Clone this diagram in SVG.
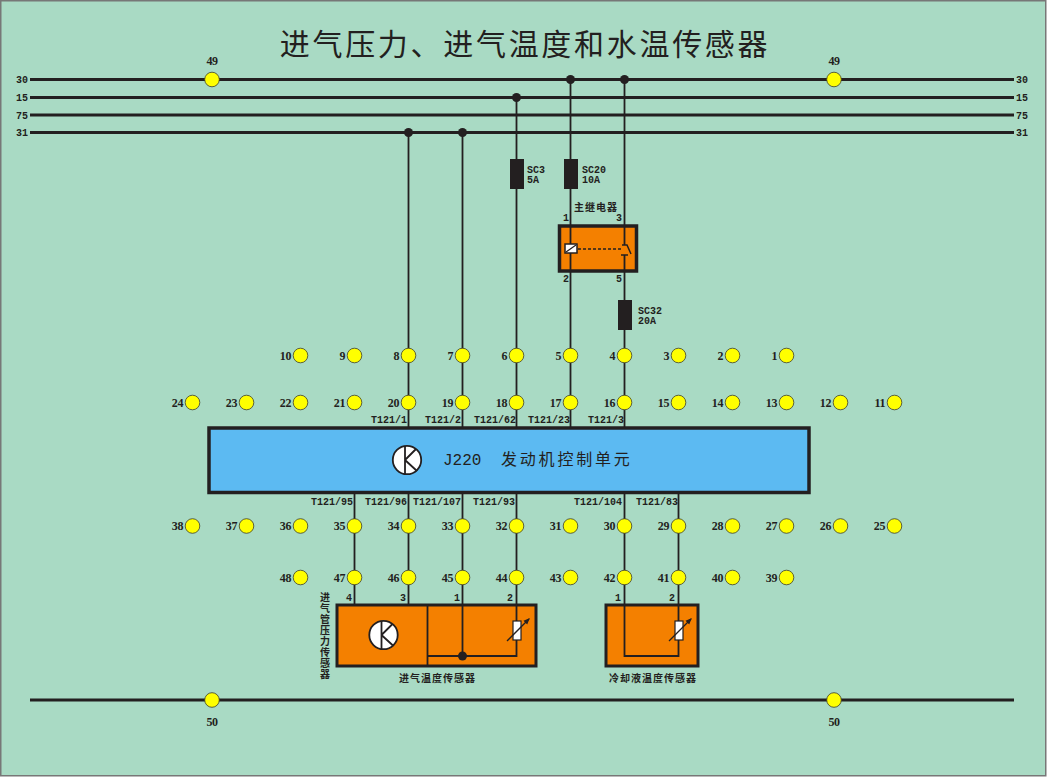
<svg xmlns="http://www.w3.org/2000/svg" width="1047" height="777" viewBox="0 0 1047 777">
<style>
.bus{stroke:#231f20;stroke-width:3;fill:none}
.w{stroke:#231f20;stroke-width:1.8;fill:none}
.p{fill:#ffff00;stroke:#3c3c2c;stroke-width:.8;r:7.3px}
.d{fill:#231f20}
.box{fill:#f48000;stroke:#231f20;stroke-width:3}
.fuse{fill:#231f20}
.res{fill:#fff;stroke:#231f20;stroke-width:1.2}
text{fill:#231f20;font-family:"Liberation Serif","Noto Sans CJK SC",serif}
.n{font-size:12px;letter-spacing:-.4px;text-anchor:end;font-weight:bold;transform:translateX(-1px)}
.c{font-size:12px;text-anchor:middle;letter-spacing:-.4px;font-weight:bold}
.m{font-family:"Liberation Mono","Noto Sans CJK SC",monospace;font-size:10px;font-weight:bold}
.t{text-anchor:end}
.b{text-anchor:middle}
.z{font-family:"Noto Sans CJK SC",sans-serif;font-size:10px;font-weight:bold;letter-spacing:1px}
</style>
<defs>
<g id="k"><circle r="14.2" fill="#fff" stroke="#231f20" stroke-width="1.8"/><path d="M-2-14V14M-2 0L9-11M-2 0L10 11" stroke="#231f20" stroke-width="1.8" fill="none"/></g>
<marker id="ar" markerWidth="5" markerHeight="5" refX="4" refY="2.500" orient="auto"><path d="M0 .5L5 2.500L0 4.500Z" fill="#231f20"/></marker>
</defs>
<rect id="background" x=".75" y=".75" width="1045" height="775" fill="#a9dac4" stroke="#777" stroke-width="1.5"/>
<text id="title" x="525" y="55" font-size="30" text-anchor="middle" letter-spacing="2.700" style="font-family:'Noto Sans CJK SC',sans-serif">进气压力、进气温度和水温传感器</text>
<g id="connectors">
<path class="bus" d="M30 79.500H1014M30 97.500H1014M30 115H1014M30 132.500H1014M30 700H1014"/>
<path class="w" d="M408.500 132V427M462.500 132V427M516.500 97V427M570.500 79V427M624.500 79V245M624.500 255V427"/>
<path class="w" d="M354.500 493V604M408.500 493V604M462.500 493V656M516.500 493V656H427M624.500 493V656H678.500M678.500 493V656"/>
<circle class="d" cx="570.500" cy="79.500" r="4.500"/><circle class="d" cx="624.500" cy="79.500" r="4.500"/><circle class="d" cx="516.500" cy="97.500" r="4.500"/><circle class="d" cx="408.500" cy="132.500" r="4.500"/><circle class="d" cx="462.500" cy="132.500" r="4.500"/>
</g>
<g id="bus-labels" class="labels">
<text class="m b" x="22" y="83">30</text><text class="m b" x="22" y="101">15</text><text class="m b" x="22" y="119">75</text><text class="m b" x="22" y="136">31</text>
<text class="m b" x="1022" y="83">30</text><text class="m b" x="1022" y="101">15</text><text class="m b" x="1022" y="119">75</text><text class="m b" x="1022" y="136">31</text>
</g>
<g id="fuse-sc3"><rect class="fuse" x="510" y="159" width="14" height="30"/><text class="m" x="527" y="173">SC3</text><text class="m" x="527" y="183">5A</text></g>
<g id="fuse-sc20"><rect class="fuse" x="564" y="159" width="14" height="30"/><text class="m" x="582" y="173">SC20</text><text class="m" x="582" y="183">10A</text></g>
<g id="fuse-sc32"><rect class="fuse" x="618" y="300" width="14" height="30"/><text class="m" x="638" y="314">SC32</text><text class="m" x="638" y="324">20A</text></g>
<g id="relay">
<text class="z" x="574" y="211">主继电器</text>
<text class="m b" x="566" y="221">1</text><text class="m b" x="619" y="221">3</text><text class="m b" x="566" y="282">2</text><text class="m b" x="619" y="282">5</text>
<rect class="box" x="559.500" y="226" width="77" height="45" style="stroke-width:3.500"/>
<path class="w" d="M570.500 226V271M624.500 226V245M624.500 255V271"/>
<rect x="565" y="244" width="12" height="9" fill="#fff" stroke="#231f20" stroke-width="1.500"/>
<path d="M566 252L576 245" stroke="#231f20" stroke-width="1.200"/>
<path d="M578 249H622" stroke="#231f20" stroke-width="1.500" stroke-dasharray="3 2" fill="none"/>
<path d="M622 245H627L631 254M621 255H628" stroke="#231f20" stroke-width="1.500" fill="none"/>
</g>
<g id="ecu-j220">
<rect x="209" y="428" width="600" height="64.500" fill="#5cbaf2" stroke="#231f20" stroke-width="3.500"/>
<use href="#k" x="407" y="460"/>
<text x="443" y="465" font-size="16" style="font-family:'Liberation Mono',monospace">J220</text>
<text x="501" y="465" font-size="16" letter-spacing="2.800" style="font-family:'Noto Sans CJK SC',sans-serif">发动机控制单元</text>
</g>
<g id="ecu-tags">
<text class="m t" x="407" y="423">T121/1</text><text class="m t" x="461" y="423">T121/2</text><text class="m t" x="516" y="423">T121/62</text><text class="m t" x="570" y="423">T121/23</text><text class="m t" x="624" y="423">T121/3</text>
<text class="m t" x="353" y="505">T121/95</text><text class="m t" x="407" y="505">T121/96</text><text class="m t" x="461" y="505">T121/107</text><text class="m t" x="515" y="505">T121/93</text><text class="m t" x="622" y="505">T121/104</text><text class="m t" x="678" y="505">T121/83</text>
</g>
<g id="sensor-intake">
<rect class="box" x="337" y="605" width="199" height="61"/>
<path class="w" d="M427.500 604V666M427 656H516.500V604M462.500 604V656"/>
<circle class="d" cx="462.500" cy="656" r="4.500"/>
<use href="#k" x="383.500" y="635"/>
<rect class="res" x="513" y="621" width="8" height="19"/>
<path d="M507 641L529 619" stroke="#231f20" stroke-width="1.300" marker-end="url(#ar)"/>
<text class="m b" x="349" y="601">4</text><text class="m b" x="403" y="601">3</text><text class="m b" x="457" y="601">1</text><text class="m b" x="510" y="601">2</text>
<text class="z" x="399" y="682">进气温度传感器</text>
<text class="z" x="325" y="592" style="writing-mode:vertical-rl">进气管压力传感器</text>
</g>
<g id="sensor-coolant">
<rect class="box" x="606" y="605" width="92" height="61"/>
<path class="w" d="M624.500 604V656H678.500V604"/>
<rect class="res" x="675" y="621" width="8" height="19"/>
<path d="M669 641L691 619" stroke="#231f20" stroke-width="1.300" marker-end="url(#ar)"/>
<text class="m b" x="618" y="601">1</text><text class="m b" x="672" y="601">2</text>
<text class="z" x="609" y="682" letter-spacing=".8">冷却液温度传感器</text>
</g>
<g id="pin-49a"><circle class="p" cx="212" cy="79.500" r="7.300"/><text class="c" x="212" y="65">49</text></g>
<g id="pin-49b"><circle class="p" cx="834" cy="79.500" r="7.300"/><text class="c" x="834" y="65">49</text></g>
<g id="pin-50a"><circle class="p" cx="212" cy="700" r="7.300"/><text class="c" x="212" y="726">50</text></g>
<g id="pin-50b"><circle class="p" cx="834" cy="700" r="7.300"/><text class="c" x="834" y="726">50</text></g>
<g id="pin-10"><circle class="p" cx="300.500" cy="355.500" r="7.300"/><text class="n" x="292" y="360">10</text></g>
<g id="pin-9"><circle class="p" cx="354.500" cy="355.500" r="7.300"/><text class="n" x="346" y="360">9</text></g>
<g id="pin-8"><circle class="p" cx="408.500" cy="355.500" r="7.300"/><text class="n" x="400" y="360">8</text></g>
<g id="pin-7"><circle class="p" cx="462.500" cy="355.500" r="7.300"/><text class="n" x="454" y="360">7</text></g>
<g id="pin-6"><circle class="p" cx="516.500" cy="355.500" r="7.300"/><text class="n" x="508" y="360">6</text></g>
<g id="pin-5"><circle class="p" cx="570.500" cy="355.500" r="7.300"/><text class="n" x="562" y="360">5</text></g>
<g id="pin-4"><circle class="p" cx="624.500" cy="355.500" r="7.300"/><text class="n" x="616" y="360">4</text></g>
<g id="pin-3"><circle class="p" cx="678.500" cy="355.500" r="7.300"/><text class="n" x="670" y="360">3</text></g>
<g id="pin-2"><circle class="p" cx="732.500" cy="355.500" r="7.300"/><text class="n" x="724" y="360">2</text></g>
<g id="pin-1"><circle class="p" cx="786.500" cy="355.500" r="7.300"/><text class="n" x="778" y="360">1</text></g>
<g id="pin-24"><circle class="p" cx="192.500" cy="402.500" r="7.300"/><text class="n" x="184" y="407">24</text></g>
<g id="pin-23"><circle class="p" cx="246.500" cy="402.500" r="7.300"/><text class="n" x="238" y="407">23</text></g>
<g id="pin-22"><circle class="p" cx="300.500" cy="402.500" r="7.300"/><text class="n" x="292" y="407">22</text></g>
<g id="pin-21"><circle class="p" cx="354.500" cy="402.500" r="7.300"/><text class="n" x="346" y="407">21</text></g>
<g id="pin-20"><circle class="p" cx="408.500" cy="402.500" r="7.300"/><text class="n" x="400" y="407">20</text></g>
<g id="pin-19"><circle class="p" cx="462.500" cy="402.500" r="7.300"/><text class="n" x="454" y="407">19</text></g>
<g id="pin-18"><circle class="p" cx="516.500" cy="402.500" r="7.300"/><text class="n" x="508" y="407">18</text></g>
<g id="pin-17"><circle class="p" cx="570.500" cy="402.500" r="7.300"/><text class="n" x="562" y="407">17</text></g>
<g id="pin-16"><circle class="p" cx="624.500" cy="402.500" r="7.300"/><text class="n" x="616" y="407">16</text></g>
<g id="pin-15"><circle class="p" cx="678.500" cy="402.500" r="7.300"/><text class="n" x="670" y="407">15</text></g>
<g id="pin-14"><circle class="p" cx="732.500" cy="402.500" r="7.300"/><text class="n" x="724" y="407">14</text></g>
<g id="pin-13"><circle class="p" cx="786.500" cy="402.500" r="7.300"/><text class="n" x="778" y="407">13</text></g>
<g id="pin-12"><circle class="p" cx="840.500" cy="402.500" r="7.300"/><text class="n" x="832" y="407">12</text></g>
<g id="pin-11"><circle class="p" cx="894.500" cy="402.500" r="7.300"/><text class="n" x="886" y="407">11</text></g>
<g id="pin-38"><circle class="p" cx="192.500" cy="526" r="7.300"/><text class="n" x="184" y="530">38</text></g>
<g id="pin-37"><circle class="p" cx="246.500" cy="526" r="7.300"/><text class="n" x="238" y="530">37</text></g>
<g id="pin-36"><circle class="p" cx="300.500" cy="526" r="7.300"/><text class="n" x="292" y="530">36</text></g>
<g id="pin-35"><circle class="p" cx="354.500" cy="526" r="7.300"/><text class="n" x="346" y="530">35</text></g>
<g id="pin-34"><circle class="p" cx="408.500" cy="526" r="7.300"/><text class="n" x="400" y="530">34</text></g>
<g id="pin-33"><circle class="p" cx="462.500" cy="526" r="7.300"/><text class="n" x="454" y="530">33</text></g>
<g id="pin-32"><circle class="p" cx="516.500" cy="526" r="7.300"/><text class="n" x="508" y="530">32</text></g>
<g id="pin-31"><circle class="p" cx="570.500" cy="526" r="7.300"/><text class="n" x="562" y="530">31</text></g>
<g id="pin-30"><circle class="p" cx="624.500" cy="526" r="7.300"/><text class="n" x="616" y="530">30</text></g>
<g id="pin-29"><circle class="p" cx="678.500" cy="526" r="7.300"/><text class="n" x="670" y="530">29</text></g>
<g id="pin-28"><circle class="p" cx="732.500" cy="526" r="7.300"/><text class="n" x="724" y="530">28</text></g>
<g id="pin-27"><circle class="p" cx="786.500" cy="526" r="7.300"/><text class="n" x="778" y="530">27</text></g>
<g id="pin-26"><circle class="p" cx="840.500" cy="526" r="7.300"/><text class="n" x="832" y="530">26</text></g>
<g id="pin-25"><circle class="p" cx="894.500" cy="526" r="7.300"/><text class="n" x="886" y="530">25</text></g>
<g id="pin-48"><circle class="p" cx="300.500" cy="577.500" r="7.300"/><text class="n" x="292" y="582">48</text></g>
<g id="pin-47"><circle class="p" cx="354.500" cy="577.500" r="7.300"/><text class="n" x="346" y="582">47</text></g>
<g id="pin-46"><circle class="p" cx="408.500" cy="577.500" r="7.300"/><text class="n" x="400" y="582">46</text></g>
<g id="pin-45"><circle class="p" cx="462.500" cy="577.500" r="7.300"/><text class="n" x="454" y="582">45</text></g>
<g id="pin-44"><circle class="p" cx="516.500" cy="577.500" r="7.300"/><text class="n" x="508" y="582">44</text></g>
<g id="pin-43"><circle class="p" cx="570.500" cy="577.500" r="7.300"/><text class="n" x="562" y="582">43</text></g>
<g id="pin-42"><circle class="p" cx="624.500" cy="577.500" r="7.300"/><text class="n" x="616" y="582">42</text></g>
<g id="pin-41"><circle class="p" cx="678.500" cy="577.500" r="7.300"/><text class="n" x="670" y="582">41</text></g>
<g id="pin-40"><circle class="p" cx="732.500" cy="577.500" r="7.300"/><text class="n" x="724" y="582">40</text></g>
<g id="pin-39"><circle class="p" cx="786.500" cy="577.500" r="7.300"/><text class="n" x="778" y="582">39</text></g>
</svg>
